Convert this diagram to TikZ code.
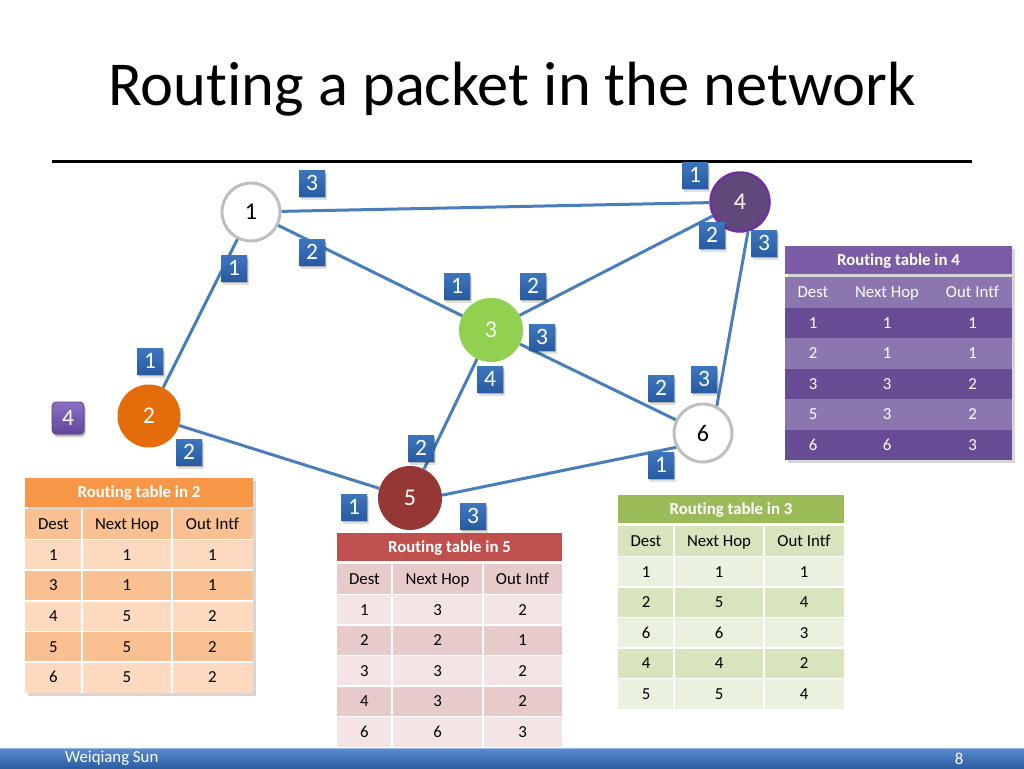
\documentclass[tikz,border=0pt]{standalone}
\usepackage{fontspec}
\setmainfont{Carlito}[Ligatures={NoCommon,NoRequired,NoContextual}]
\definecolor{edgeblue}{RGB}{74,126,187}
\definecolor{pbtop}{RGB}{62,118,190}
\definecolor{pbbot}{RGB}{40,92,162}
\definecolor{pktop}{RGB}{140,112,196}
\definecolor{pkbot}{RGB}{98,70,152}
\definecolor{pkdraw}{RGB}{88,62,138}
\definecolor{nodegray}{RGB}{191,191,191}
\definecolor{nfour}{RGB}{96,73,122}
\definecolor{nfourdraw}{RGB}{112,48,160}
\definecolor{nthree}{RGB}{146,208,80}
\definecolor{ntwo}{RGB}{228,108,10}
\definecolor{nfive}{RGB}{149,55,53}
% orange table
\definecolor{ohead}{RGB}{247,150,70}
\definecolor{oband}{RGB}{249,192,146}
\definecolor{olight}{RGB}{252,217,191}
% purple table
\definecolor{phead}{RGB}{124,92,166}
\definecolor{pband}{RGB}{140,118,176}
\definecolor{pdark}{RGB}{104,76,148}
% red table
\definecolor{rhead}{RGB}{192,80,77}
\definecolor{rband}{RGB}{231,202,202}
\definecolor{rlight}{RGB}{243,229,229}
% green table
\definecolor{ghead}{RGB}{155,187,89}
\definecolor{gband}{RGB}{216,228,190}
\definecolor{glight}{RGB}{235,241,223}
% footer
\definecolor{ftop}{RGB}{88,140,208}
\definecolor{fbot}{RGB}{44,94,160}
\definecolor{fline}{RGB}{150,185,228}

\newcommand\tabgeom[8]{\def\tA{#1}\def\tB{#2}\def\tC{#3}\def\tD{#4}\def\tTop{#5}\def\tHb{#6}\def\tRt{#7}\def\tRh{#8}}
\newcommand\rtable[8]{%
  \pgfmathsetmacro\tBot{\tRt+6*\tRh}%
  \fill[#2] (\tA,\tTop) rectangle (\tD,\tHb);
  \node[tabhead] (#1-head) at ({(\tA+\tD)/2},{(\tTop+\tHb)/2}) {#6};
  \foreach \cA/\cB/\cC [count=\r from 0] in {Dest/Next Hop/Out Intf,#7}{%
    \pgfmathsetmacro\yt{\tRt+\r*\tRh}%
    \pgfmathsetmacro\yb{\tRt+(\r+1)*\tRh}%
    \pgfmathsetmacro\ym{\tRt+(\r+0.5)*\tRh}%
    \ifodd\r\relax \def\bc{#4}\else \def\bc{#3}\fi
    \fill[\bc] (\tA,\yt) rectangle (\tD,\yb);
    \node[tabcell,text=#5] (#1-\r-a) at ({(\tA+\tB)/2},\ym) {\cA};
    \node[tabcell,text=#5] (#1-\r-b) at ({(\tB+\tC)/2},\ym) {\cB};
    \node[tabcell,text=#5] (#1-\r-c) at ({(\tC+\tD)/2},\ym) {\cC};
  }
  \ifnum#8=1
    \draw[white,line width=1.5pt] (\tB,\tRt) -- (\tB,\tBot) (\tC,\tRt) -- (\tC,\tBot);
    \foreach \k in {1,...,5}{\pgfmathsetmacro\yk{\tRt+\k*\tRh}\draw[white,line width=1.5pt] (\tA,\yk) -- (\tD,\yk);}
  \fi
}

\begin{document}
\begin{tikzpicture}[x=1pt,y=-1pt,
  edge/.style={draw=edgeblue,line width=3pt},
  netnode/.style={circle,inner sep=0pt,minimum size=63pt,font=\fontsize{24}{24}\selectfont,text=white},
  whitenode/.style={circle,inner sep=0pt,minimum size=58pt,fill=white,draw=nodegray,line width=3pt,font=\fontsize{24}{24}\selectfont,text=black},
  softshadow/.style={preaction={fill=black,opacity=0.22,transform canvas={xshift=1pt,yshift=-2pt}},preaction={fill=black,opacity=0.12,transform canvas={xshift=2pt,yshift=-3.5pt}}},
  port/.style={rectangle,inner sep=0pt,minimum size=26pt,softshadow,top color=pbtop,bottom color=pbbot,text=white,font=\fontsize{23.5}{23.5}\selectfont},
  packet/.style={rectangle,rounded corners=4pt,inner sep=0pt,minimum size=32pt,softshadow,top color=pktop,bottom color=pkbot,draw=pkdraw,line width=0.8pt,text=white,font=\fontsize{23.5}{23.5}\selectfont},
  tabhead/.style={inner sep=0pt,text height=10.8pt,text depth=0pt,text=white,font=\fontsize{16.8}{18}\selectfont\bfseries},
  tabcell/.style={inner sep=0pt,text height=10.8pt,text depth=0pt,font=\fontsize{16.8}{18}\selectfont},
  footer/.style={inner sep=0pt,text=white,font=\fontsize{16.8}{18}\selectfont},
]
\useasboundingbox (0,0) rectangle (1024,768);
\fill[white] (0,0) rectangle (1024,768);

% title
\node[anchor=base,inner sep=0pt,font=\fontsize{62.5}{70}\selectfont] (title) at (512,105) {Routing a packet in the network};
\draw[line width=3pt] (52,161) -- (972,161);

% network nodes
\node[whitenode] (n1) at (251,212) {1};
\node[netnode,minimum size=59pt,fill=nfour,draw=nfourdraw,line width=2.5pt] (n4) at (740,202) {4};
\node[netnode,fill=nthree,minimum size=64pt] (n3) at (491,330) {3};
\node[netnode,fill=ntwo] (n2) at (149,416) {2};
\node[netnode,fill=nfive,minimum size=64pt] (n5) at (410,498) {5};
\node[whitenode] (n6) at (703,433) {6};

% links
\draw[edge] (n1) -- (n4);
\draw[edge] (n1) -- (n3);
\draw[edge] (n1) -- (n2);
\draw[edge] (n2) -- (n5);
\draw[edge] (n3) -- (n5);
\draw[edge] (n3) -- (n4);
\draw[edge] (n3) -- (n6);
\draw[edge] (n4.-75) -- (n6.63);
\draw[edge] (n5.5) -- (n6.208);

% interface labels
\node[port] (p13) at (312,183) {3};
\node[port] (p12) at (312,252) {2};
\node[port] (p11) at (234,268) {1};
\node[port] (p41) at (695,175) {1};
\node[port] (p42) at (712,235) {2};
\node[port] (p43) at (764,243) {3};
\node[port] (p31) at (457,286) {1};
\node[port] (p32) at (533,286) {2};
\node[port] (p33) at (542,337) {3};
\node[port] (p34) at (490,379) {4};
\node[port] (p21) at (150,361) {1};
\node[port] (p22) at (189,452) {2};
\node[port] (p52) at (421,448) {2};
\node[port] (p51) at (354,507) {1};
\node[port] (p53) at (473,516) {3};
\node[port] (p62) at (661,388) {2};
\node[port] (p63) at (704,379) {3};
\node[port] (p61) at (661,465) {1};

% packet
\node[packet] (pkt) at (68,418) {4};

% routing table in 4
\fill[black,opacity=0.16] (788,249) rectangle (1015,463);
\tabgeom{785}{841}{933}{1012}{246}{274}{277}{30.5}
\rtable{t4}{phead}{pband}{pdark}{white}{Routing table in 4}{1/1/1,2/1/1,3/3/2,5/3/2,6/6/3}{0}

% routing table in 2
\fill[black,opacity=0.16] (28,481) rectangle (256,696);
\tabgeom{25}{82}{172}{253}{478}{507}{509}{30.6}
\rtable{t2}{ohead}{oband}{olight}{black}{Routing table in 2}{1/1/1,3/1/1,4/5/2,5/5/2,6/5/2}{1}

% routing table in 3
\tabgeom{618}{674}{764}{844}{495}{523}{526}{30.5}
\rtable{t3}{ghead}{gband}{glight}{black}{Routing table in 3}{1/1/1,2/5/4,6/6/3,4/4/2,5/5/4}{1}

% routing table in 5
\tabgeom{337}{392}{483}{562}{533}{561}{564}{30.5}
\rtable{t5}{rhead}{rband}{rlight}{black}{Routing table in 5}{1/3/2,2/2/1,3/3/2,4/3/2,6/6/3}{1}

% footer
\shade[top color=ftop,bottom color=fbot] (0,748) rectangle (1024,768);
\draw[fline,line width=1pt] (0,748.5) -- (1024,748.5);
\node[footer,anchor=west] (author) at (65,758.5) {Weiqiang Sun};
\node[footer] (pagenum) at (959,758.5) {8};
\end{tikzpicture}
\end{document}
